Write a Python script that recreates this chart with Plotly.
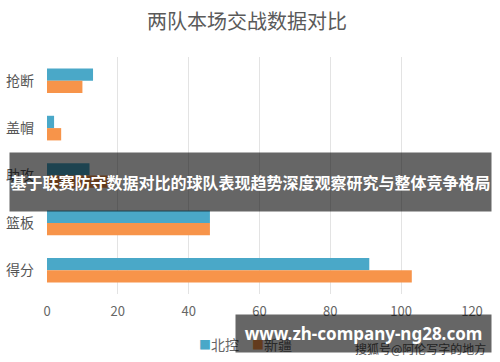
import plotly.graph_objects as go

categories = ["抢断", "盖帽", "助攻", "篮板", "得分"]
beikong = [13, 2, 12, 46, 91]
xinjiang = [10, 4, 18, 46, 103]
series_names = ["北控", "新疆"]
x_ticks = [0, 20, 40, 60, 80, 100, 120]

title_text = "两队本场交战数据对比"
banner_text = "基于联赛防守数据对比的球队表现趋势深度观察研究与整体竞争格局"
watermark_text = "www.zh-company-ng28.com"
source_text = "搜狐号@阿伦写字的地方"

BLUE = "#4aa8c8"
ORANGE = "#f7944a"
FONT = "Noto Sans CJK SC"

fig = go.Figure()
fig.add_trace(go.Bar(y=categories, x=beikong, name=series_names[0], orientation="h",
                     marker=dict(color=BLUE, line=dict(width=0))))
fig.add_trace(go.Bar(y=categories, x=xinjiang, name=series_names[1], orientation="h",
                     marker=dict(color=ORANGE, line=dict(width=0))))

W, H = 500, 362
L, R, T, B = 47, 28, 57, 68
pw, ph = W - L - R, H - T - B

def px_x(x):
    return (x - L) / pw

def px_y(y):
    return (H - B - y) / ph

legend_items = [
    dict(text='<span style="color:%s;font-size:12px">■</span>%s' % (BLUE, series_names[0]), x=px_x(197)),
    dict(text='<span style="color:%s;font-size:12px">■</span>%s' % (ORANGE, series_names[1]), x=px_x(250)),
]

annotations = []
for it in legend_items:
    annotations.append(dict(text=it["text"], xref="paper", yref="paper", x=it["x"], y=px_y(344),
                            xanchor="left", yanchor="middle", showarrow=False,
                            font=dict(family=FONT, size=14, color="#666666")))
annotations += [
    dict(text=source_text, xref="paper", yref="paper", x=px_x(488), y=px_y(348),
         xanchor="right", yanchor="middle", showarrow=False,
         font=dict(family=FONT, size=12, color="#555555")),
    dict(text="<b>" + banner_text + "</b>", xref="paper", yref="paper",
         x=px_x(250), y=px_y(181.5), xanchor="center", yanchor="middle", showarrow=False,
         width=481, height=58, bgcolor="rgba(0,0,0,0.6)", borderpad=0,
         font=dict(family=FONT, size=16, color="white")),
    dict(text="<b>" + watermark_text + "</b>", xref="paper", yref="paper",
         x=px_x(363.5), y=px_y(333.5), xanchor="center", yanchor="middle", showarrow=False,
         width=255, height=37, bgcolor="rgba(0,0,0,0.6)", borderpad=0,
         font=dict(family="Noto Sans", size=17, color="white")),
]

fig.update_layout(
    width=W, height=H,
    margin=dict(l=L, r=R, t=T, b=B),
    paper_bgcolor="white", plot_bgcolor="white",
    font=dict(family=FONT, color="#666666", size=13),
    barmode="group", bargap=0.48, bargroupgap=0,
    showlegend=False,
    title=dict(text=title_text, x=247 / W, xanchor="center", y=1 - 22 / H, yanchor="middle",
               font=dict(family=FONT, size=20, color="#5a5a5a")),
    xaxis=dict(range=[0, 120], tickvals=x_ticks, showgrid=True, gridcolor="#e3e3e3", gridwidth=1,
               zeroline=False, showline=False, ticks="", ticklabelstandoff=8, automargin=False,
               tickfont=dict(size=13, color="#666666")),
    yaxis=dict(autorange="reversed", showgrid=False, zeroline=False, showline=False, ticks="",
               ticklabelstandoff=12, automargin=False,
               tickfont=dict(size=14, color="#555555")),
    annotations=annotations,
)

fig.write_html("out.html", config={"displayModeBar": False},
               post_script="document.body.style.margin='0';document.body.style.overflow='hidden';")
